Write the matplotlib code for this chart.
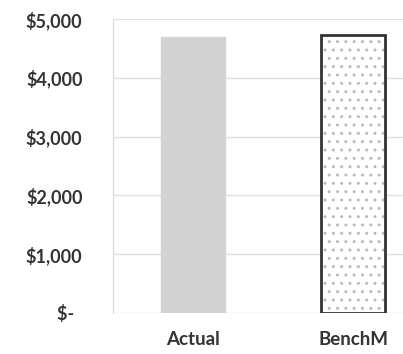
import matplotlib.pyplot as plt
import numpy as np

plt.rcParams['font.family'] = ['Lato', 'DejaVu Sans']

categories = ["Actual", "BenchM"]
values = [4700, 4720]
yticks = [0, 1000, 2000, 3000, 4000, 5000]
ytick_labels = ["$-  ", "$1,000", "$2,000", "$3,000", "$4,000", "$5,000"]

fig = plt.figure(figsize=(4.03, 3.54), dpi=100)
# plot area runs past the right edge, like the cropped original
ax = fig.add_axes([113/403, 1 - 313/354, 320/403, 294/354])

x = np.arange(len(categories))
ax.bar(x[0], values[0], width=0.4, color="#d3d3d3", edgecolor="#d3d3d3", zorder=2)
# faint dotted fill, then the dark outline on top
ax.bar(x[1], values[1], width=0.4, color="white", edgecolor="#bbbbbb",
       linewidth=0, hatch="..", zorder=2)
ax.bar(x[1], values[1], width=0.4, fill=False, edgecolor="#333333",
       linewidth=2, zorder=3)

ax.set_xlim(-0.5, 1.5)
ax.set_ylim(0, 5000)
ax.set_yticks(yticks)
ax.set_yticklabels(ytick_labels)
ax.set_xticks(x)
ax.set_xticklabels(categories)
ax.grid(axis="y", color="#e0e0e0", linewidth=1, zorder=0)

for s in ["top", "right", "bottom"]:
    ax.spines[s].set_visible(False)
ax.spines["left"].set_color("#d8d8d8")
ax.tick_params(axis="y", length=0, pad=22, labelsize=13, labelcolor="#333333")
ax.tick_params(axis="x", length=0, pad=13, labelsize=13.5, labelcolor="#333333")
for lab in ax.get_xticklabels() + ax.get_yticklabels():
    lab.set_fontweight("bold")

fig.savefig("out.png", dpi=100)
